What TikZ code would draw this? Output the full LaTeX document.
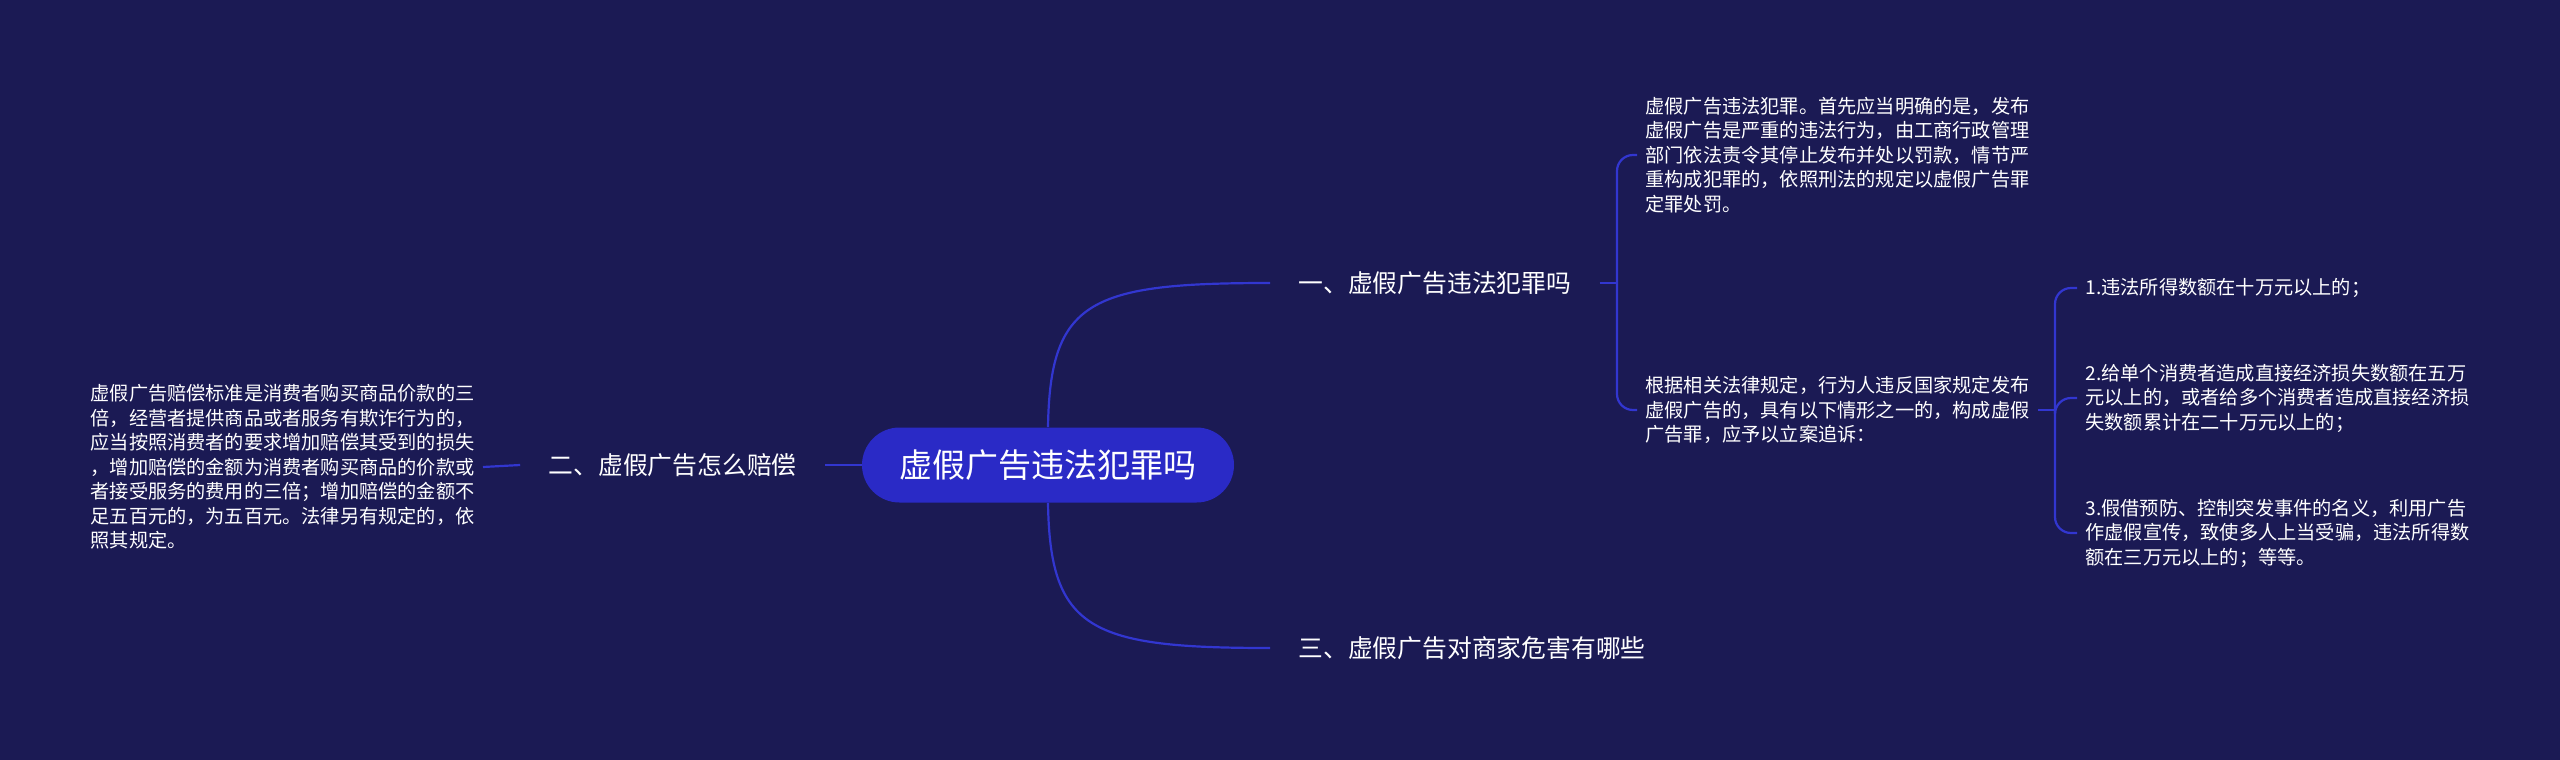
\documentclass[tikz,border=0pt]{standalone}
\usepackage{fontspec}
\newfontfamily\cjk{Noto Sans CJK SC}
\usepackage{tikz}
\usetikzlibrary{positioning}
\usetikzlibrary{calc}

\definecolor{bgnavy}{RGB}{27,26,84}
\definecolor{linkblue}{RGB}{50,54,208}
\definecolor{rootblue}{RGB}{42,42,198}

\begin{document}
\begin{tikzpicture}[
                x=0.5pt, y=-0.5pt,
                every node/.style={
                        text=white,
                        align=left
                    },
                rootnode/.style={
                        fill=rootblue,
                        rounded corners=18.75pt,
                        minimum width=186pt,
                        minimum height=37.5pt,
                        align=center,
                        font=\cjk\fontsize{16.5}{20}\selectfont
                    },
                branchnode/.style={
                        inner xsep=14pt,
                        inner ysep=2pt,
                        font=\cjk\fontsize{12.4}{15}\selectfont
                    },
                leafnode/.style={
                        inner xsep=4pt,
                        inner ysep=0pt,
                        font=\cjk\fontsize{9.6}{12.25}\selectfont
                    },
                link/.style={
                        draw=linkblue,
                        line width=1.1pt
                    }
            ]

            % Background
            \fill[bgnavy] (0,0) rectangle (2560,760);
            \useasboundingbox (0,0) rectangle (2560,760);

            % Root and main branches
            \node[rootnode] (root) at (1048,465) {虚假广告违法犯罪吗};
            \node[branchnode, anchor=west] (b1) at (1270,283) {一、虚假广告违法犯罪吗};
            \node[branchnode, anchor=east] (b2) at (825,465) {二、虚假广告怎么赔偿};
            \node[branchnode, anchor=west] (b3) at (1270,648) {三、虚假广告对商家危害有哪些};

            % Text blocks
            \node[leafnode, anchor=west] (t1) at (1637,155) {虚假广告违法犯罪。首先应当明确的是，发布\\虚假广告是严重的违法行为，由工商行政管理\\部门依法责令其停止发布并处以罚款，情节严\\重构成犯罪的，依照刑法的规定以虚假广告罪\\定罪处罚。};
            \node[leafnode, anchor=west] (t2) at (1637,410) {根据相关法律规定，行为人违反国家规定发布\\虚假广告的，具有以下情形之一的，构成虚假\\广告罪，应予以立案追诉：};
            \node[leafnode, anchor=east] (l1) at (483,467) {虚假广告赔偿标准是消费者购买商品价款的三\\倍，经营者提供商品或者服务有欺诈行为的，\\应当按照消费者的要求增加赔偿其受到的损失\\，增加赔偿的金额为消费者购买商品的价款或\\者接受服务的费用的三倍；增加赔偿的金额不\\足五百元的，为五百元。法律另有规定的，依\\照其规定。};

            % Cases
            \node[leafnode, anchor=west] (i1) at (2077,288) {1.违法所得数额在十万元以上的；};
            \node[leafnode, anchor=west] (i2) at (2077,398) {2.给单个消费者造成直接经济损失数额在五万\\元以上的，或者给多个消费者造成直接经济损\\失数额累计在二十万元以上的；};
            \node[leafnode, anchor=west] (i3) at (2077,533) {3.假借预防、控制突发事件的名义，利用广告\\作虚假宣传，致使多人上当受骗，违法所得数\\额在三万元以上的；等等。};

            % Curves from the root
            \draw[link] (root.north) .. controls (1050,300) and (1090,283) .. (b1.west);
            \draw[link] (root.south) .. controls (1050,630) and (1090,648) .. (b3.west);
            \draw[link] (root.west) -- (b2.east);
            \draw[link] (b2.west) -- (l1.east);

            % Brackets
            \coordinate (k1) at (1617,283);
            \coordinate (k2) at (2055,410);
            \draw[link] (b1.east) -- (k1);
            \draw[link, rounded corners=8pt] (k1) |- (t1.west);
            \draw[link, rounded corners=8pt] (k1) |- (t2.west);
            \draw[link] (t2.east) -- (k2);
            \draw[link, rounded corners=8pt] (k2) |- (i1.west);
            \draw[link, rounded corners=8pt] (k2) |- (i2.west);
            \draw[link, rounded corners=8pt] (k2) |- (i3.west);

        \end{tikzpicture}
\end{document}
